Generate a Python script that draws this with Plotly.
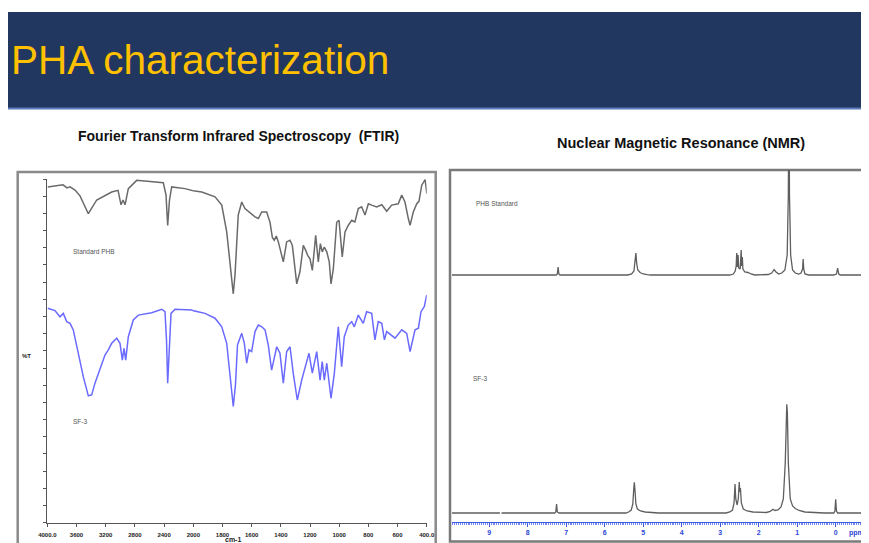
import plotly.graph_objects as go

# ---------------- data ----------------
# FTIR (wavenumber cm-1, %T)
ftir_wn_phb = [3995, 3894, 3785, 3730, 3689, 3620, 3552, 3438, 3323, 3118, 3031, 2990, 2963, 2935,
               2890, 2775, 2593, 2411, 2374, 2351, 2326, 2296, 2114, 1942, 1851, 1805, 1771, 1748,
               1726, 1714, 1704, 1692, 1668, 1646, 1577, 1554, 1531, 1497, 1474, 1458, 1445, 1431,
               1417, 1383, 1360, 1337, 1321, 1291, 1269, 1246, 1230, 1216, 1200, 1184, 1161, 1143,
               1129, 1116, 1102, 1085, 1068, 1056, 1040, 1017, 1001, 988, 979, 960, 938, 914, 892,
               869, 846, 823, 800, 777, 743, 708, 674, 640, 595, 571, 549, 526, 514, 492, 468, 453,
               434, 411, 399]
ftir_t_phb = [97.7, 98.0, 98.3, 97.4, 97.7, 96.8, 95.1, 89.9, 93.9, 96.2, 96.7, 92.5, 93.9, 92.5,
              97.2, 99.6, 99.3, 98.9, 95.4, 86.5, 93.9, 97.7, 97.2, 96.2, 94.8, 92.4, 84.6, 74.9,
              66.6, 72.1, 82.3, 89.5, 93.3, 91.4, 89.0, 88.5, 90.4, 90.4, 87.4, 83.0, 82.2, 83.4,
              81.7, 75.9, 81.7, 82.2, 80.7, 69.5, 73.0, 80.7, 79.3, 77.8, 76.8, 73.4, 83.6, 75.9,
              81.2, 78.8, 80.2, 78.8, 75.9, 69.5, 73.9, 87.4, 88.0, 82.6, 77.3, 84.6, 86.5, 88.0, 87.5,
              91.4, 91.9, 89.5, 92.8, 92.4, 91.9, 92.5, 90.6, 92.4, 92.8, 95.3, 93.3, 88.5, 86.5, 90.4,
              92.8, 93.5, 98.2, 99.8, 95.7]

ftir_wn_sf3 = [3995, 3895, 3826, 3781, 3734, 3689, 3644, 3575, 3507, 3438, 3392, 3347, 3278, 3210,
               3164, 3118, 3049, 3004, 2972, 2949, 2926, 2890, 2822, 2753, 2570, 2433, 2388, 2367,
               2351, 2333, 2305, 2250, 2022, 1920, 1851, 1805, 1771, 1748, 1726, 1711, 1697, 1668,
               1650, 1634, 1618, 1600, 1577, 1554, 1531, 1508, 1486, 1463, 1428, 1406, 1383, 1360,
               1337, 1315, 1287, 1257, 1234, 1207, 1184, 1154, 1131, 1116, 1102, 1085, 1056, 1033,
               1006, 983, 965, 938, 914, 896, 869, 835, 812, 777, 755, 732, 708, 690, 674, 640, 617,
               571, 537, 514, 480, 457, 439, 416, 400]
ftir_t_sf3 = [62.4, 61.7, 59.9, 60.9, 58.5, 58.0, 56.1, 49.3, 42.5, 36.9, 37.2, 40.6, 44.9, 48.8,
              50.3, 52.2, 53.7, 52.2, 47.3, 50.7, 47.3, 54.1, 59.0, 60.4, 61.1, 62.1, 61.4, 53.2,
              40.6, 48.3, 60.9, 62.1, 61.9, 60.9, 59.5, 57.0, 52.2, 42.5, 33.8, 40.1, 51.7, 55.1,
              52.2, 46.4, 50.3, 49.8, 55.6, 57.5, 57.0, 56.1, 51.7, 44.4, 51.2, 49.3, 40.6, 49.8,
              51.2, 43.5, 35.7, 41.5, 45.4, 49.3, 43.5, 49.8, 41.5, 46.9, 41.5, 46.4, 36.2, 43.5,
              57.0, 45.4, 54.1, 57.5, 58.5, 57.0, 60.4, 58.0, 61.4, 60.9, 53.2, 58.5, 58.0, 53.2,
              55.6, 54.6, 53.7, 56.1, 55.1, 49.8, 56.1, 56.6, 61.4, 62.9, 66.3]

ftir_ticks_hi = [4000, 3600, 3200, 2800, 2400, 2000]
ftir_ticktext_hi = ["4000.0", "3600", "3200", "2800", "2400", "2000"]
ftir_ticks_lo = [1800, 1600, 1400, 1200, 1000, 800, 600, 400]
ftir_ticktext_lo = ["1800", "1600", "1400", "1200", "1000", "800", "600", "400.0"]

# 1H NMR (ppm, intensity)
nmr_ppm_phb = [9.97, 7.26, 7.23, 7.21, 7.19, 7.16,
               5.40, 5.30, 5.24, 5.21, 5.19, 5.17, 5.14, 5.08, 5.00, 4.90, 4.80,
               2.75, 2.66, 2.61, 2.585, 2.57, 2.555, 2.535, 2.52, 2.48, 2.455, 2.44, 2.425, 2.41,
               2.36, 2.28, 2.20, 2.10,
               1.85, 1.75, 1.66, 1.60, 1.55, 1.48, 1.40, 1.32, 1.26, 1.23, 1.215, 1.20, 1.17, 1.12,
               1.05, 0.96, 0.90, 0.86, 0.845, 0.83, 0.80, 0.70,
               0.05, -0.02, -0.05, -0.08, -0.12, -1.10]
nmr_int_phb = [0, 0, 1, 8, 1, 0,
               0, 1, 4, 14, 22, 12, 5, 2.5, 1, 0.3, 0,
               0, 1, 4, 9, 22, 8, 20, 7, 6, 25, 9, 18, 6,
               3, 2.5, 1, 0,
               0, 0.5, 2, 5.5, 3, 1, 2, 5, 20, 80, 200, 80, 20, 5,
               2, 1, 2, 6, 16, 6, 1, 0,
               0, 1, 7, 1, 0, 0]

nmr_ppm_sf3 = [9.97, 8.72, None, 8.68, 7.30, 7.27, 7.25, 7.23, 7.19,
               5.45, 5.38, 5.31, 5.27, 5.245, 5.23, 5.215, 5.19, 5.15, 5.07, 4.95, 4.80, 4.60,
               2.85, 2.75, 2.68, 2.64, 2.615, 2.595, 2.56, 2.53, 2.505, 2.49, 2.475, 2.45, 2.40,
               2.30, 2.15, 2.00,
               1.80, 1.70, 1.63, 1.58, 1.50, 1.42, 1.36, 1.31, 1.285, 1.27, 1.255, 1.23, 1.18,
               1.12, 1.05, 0.95, 0.80, 0.60, 0.30,
               0.05, 0.02, 0.00, -0.02, -0.05, -1.10]
nmr_int_sf3 = [0, 0, None, 0, 0, 1, 9, 1, 0,
               0, 1, 3, 9, 24, 30.7, 24, 9, 4, 2, 1, 0.3, 0,
               0, 1, 3, 10, 29, 14, 8, 14, 31, 21, 25, 10, 4,
               2, 1, 0.5,
               0.5, 1.5, 3.7, 2.5, 3, 6, 14, 50, 100, 108.7, 100, 50, 14,
               7, 4.5, 2.5, 1, 0.3, 0,
               0, 2, 13.7, 2, 0, 0]

nmr_ticks = [9, 8, 7, 6, 5, 4, 3, 2, 1, 0]

# ---------------- layout helpers (page pixel -> paper) ----------------
W, H = 869, 543
OFF = 8  # page body margin of the browser


def px(x):
    return (x - OFF) / W


def py(y):
    return 1 - (y - OFF) / H


def split_at(wn, t, cut):
    pts = list(zip(wn, t))
    hi = [p for p in pts if p[0] >= cut]
    lo = [p for p in pts if p[0] <= cut]
    first_lo = next(p for p in pts if p[0] < cut)
    last_hi = [p for p in pts if p[0] > cut][-1]
    hi.append(first_lo)
    lo.insert(0, last_hi)
    return hi, lo


fig = go.Figure()

FONT = "Liberation Sans, Arial, sans-serif"

phb_color = "#6a6a6a"
sf3_color = "#6a6aff"

for wn, t, col in [(ftir_wn_phb, ftir_t_phb, phb_color), (ftir_wn_sf3, ftir_t_sf3, sf3_color)]:
    hi, lo = split_at(wn, t, 2000)
    fig.add_trace(go.Scatter(x=[p[0] for p in hi], y=[p[1] for p in hi], mode="lines",
                             line=dict(color=col, width=1.5), xaxis="x", yaxis="y",
                             hoverinfo="skip", showlegend=False))
    fig.add_trace(go.Scatter(x=[p[0] for p in lo], y=[p[1] for p in lo], mode="lines",
                             line=dict(color=col, width=1.5), xaxis="x2", yaxis="y",
                             hoverinfo="skip", showlegend=False))

fig.add_trace(go.Scatter(x=nmr_ppm_phb, y=nmr_int_phb, mode="lines",
                         line=dict(color="#5e5e5e", width=1.3), xaxis="x3", yaxis="y3",
                         hoverinfo="skip", showlegend=False))
fig.add_trace(go.Scatter(x=nmr_ppm_sf3, y=nmr_int_sf3, mode="lines",
                         line=dict(color="#5e5e5e", width=1.3), xaxis="x3", yaxis="y4",
                         hoverinfo="skip", showlegend=False))

tickfont_ftir = dict(family=FONT, size=6, color="#222222", weight="bold")

# x range of NMR axis reaches the right edge of the figure (page x = 877)
ppm_left = 9.966
ppm_right = -1.073

fig.update_layout(
    width=W, height=H,
    margin=dict(l=0, r=0, t=0, b=0, autoexpand=False),
    paper_bgcolor="white", plot_bgcolor="rgba(0,0,0,0)",
    showlegend=False,
    xaxis=dict(domain=[px(47.3), px(193.3)], range=[4000, 2000], anchor="y", automargin=False,
               tickvals=ftir_ticks_hi, ticktext=ftir_ticktext_hi, tickfont=tickfont_ftir,
               showline=True, linecolor="#555555", linewidth=1, ticks="outside", ticklen=3,
               tickcolor="#555555", showgrid=False, zeroline=False, ticklabelstandoff=3),
    xaxis2=dict(domain=[px(193.3), px(426.7)], range=[2000, 400], anchor="y", automargin=False,
                tickvals=ftir_ticks_lo, ticktext=ftir_ticktext_lo, tickfont=tickfont_ftir,
                showline=True, linecolor="#555555", linewidth=1, ticks="outside", ticklen=3,
                tickcolor="#555555", showgrid=False, zeroline=False, ticklabelstandoff=3),
    yaxis=dict(domain=[py(522.7), py(179)], range=[0, 100], anchor="x", automargin=False,
               showline=True, linecolor="#555555", linewidth=1, ticks="outside", ticklen=3,
               tickcolor="#555555", dtick=5, showticklabels=False, showgrid=False, zeroline=False),
    xaxis3=dict(domain=[px(452), 1.0], range=[ppm_left, ppm_right], anchor="free",
                position=py(521.7), automargin=False,
                tickvals=nmr_ticks,
                tickfont=dict(family=FONT, size=7, color="#2b46d6", weight="bold"),
                showline=True, linecolor="#3b5be0", linewidth=1, ticks="outside", ticklen=4,
                tickcolor="#3b5be0", showgrid=False, zeroline=False,
                minor=dict(dtick=0.05, ticks="outside", ticklen=2, tickcolor="#7088ee")),
    yaxis3=dict(domain=[py(280), py(170)], range=[-5, 105], anchor="x3", visible=False,
                automargin=False),
    yaxis4=dict(domain=[py(518), py(380)], range=[-5, 133], anchor="x3", visible=False,
                automargin=False),
)

shapes = [
    # title banner
    dict(type="rect", xref="paper", yref="paper", x0=0, x1=1, y0=py(108), y1=py(12),
         fillcolor="#22375f", line=dict(width=0), layer="below"),
    dict(type="line", xref="paper", yref="paper", x0=0, x1=1, y0=py(108.5), y1=py(108.5),
         line=dict(color="#5a7bbd", width=2)),
    # FTIR frame
    dict(type="rect", xref="paper", yref="paper", x0=px(17.7), x1=px(435.7), y0=py(549),
         y1=py(172), line=dict(color="#8a8a8a", width=2.5), fillcolor="rgba(0,0,0,0)",
         layer="below"),
    # NMR frame
    dict(type="rect", xref="paper", yref="paper", x0=px(450), x1=px(885), y0=py(541.5),
         y1=py(170), line=dict(color="#7a7a7a", width=2.5), fillcolor="rgba(0,0,0,0)",
         layer="below"),
]
fig.update_layout(shapes=shapes)

small = dict(family=FONT, size=6.5, color="#555555")
annotations = [
    dict(text="PHA characterization", x=px(8.5), y=py(60), xanchor="left", yanchor="middle",
         font=dict(family=FONT, size=40.5, color="#ffc000")),
    dict(text="<b>Fourier Transform Infrared Spectroscopy  (FTIR)</b>", x=px(238), y=py(136),
         xanchor="center", yanchor="middle", font=dict(family=FONT, size=14, color="#111111")),
    dict(text="<b>Nuclear Magnetic Resonance (NMR)</b>", x=px(681), y=py(143),
         xanchor="center", yanchor="middle", font=dict(family=FONT, size=14.5, color="#111111")),
    dict(text="Standard PHB", x=px(70.5), y=py(252), xanchor="left", yanchor="middle", font=small),
    dict(text="SF-3", x=px(70.5), y=py(421.7), xanchor="left", yanchor="middle", font=small),
    dict(text="PHB Standard", x=px(474), y=py(203.3), xanchor="left", yanchor="middle", font=small),
    dict(text="SF-3", x=px(470.5), y=py(378.3), xanchor="left", yanchor="middle", font=small),
    dict(text="<b>%T</b>", x=px(26.7), y=py(356), xanchor="center", yanchor="middle",
         font=dict(family=FONT, size=6, color="#222222")),
    dict(text="<b>cm-1</b>", x=px(233), y=py(534), xanchor="center", yanchor="top",
         font=dict(family=FONT, size=7, color="#222222")),
    dict(text="<b>ppm</b>", x=px(847), y=py(533), xanchor="left", yanchor="middle",
         font=dict(family=FONT, size=7, color="#2b46d6")),
]
for a in annotations:
    a.update(xref="paper", yref="paper", showarrow=False)
fig.update_layout(annotations=annotations)

fig.write_html("out.html")
